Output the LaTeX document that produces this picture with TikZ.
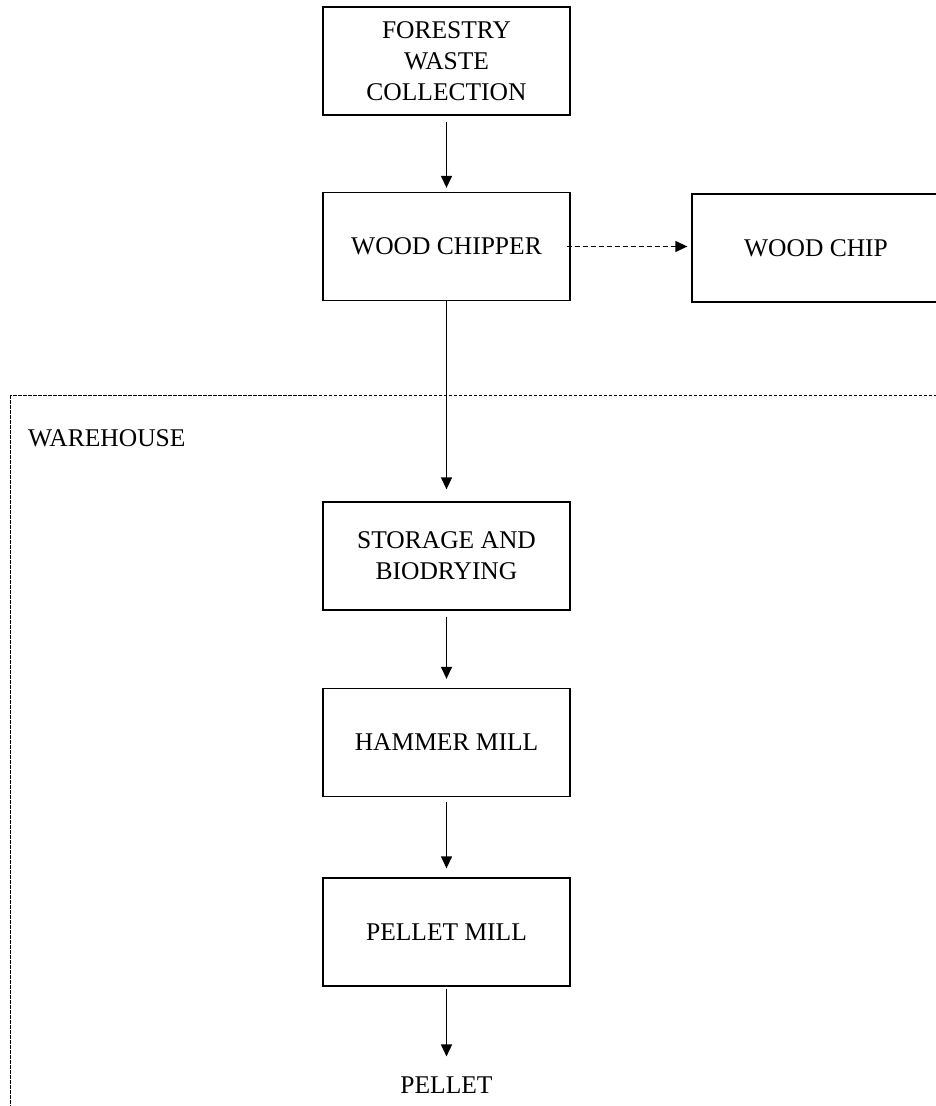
\documentclass[tikz,border=0pt]{standalone}
\usepackage{fontspec}
\setmainfont{Liberation Serif}
\usetikzlibrary{arrows.meta}
\begin{document}
\begin{tikzpicture}[x=1pt,y=-1pt,
  txt/.style={font=\fontsize{25.5}{31}\selectfont},
  box/.style={txt, draw, line width=1.3pt, inner sep=0pt, align=center,
              minimum width=247pt, minimum height=108pt},
  lbl/.style={txt, inner sep=0pt},
  arr/.style={line width=1.3pt, -{Triangle[length=12pt,width=11pt]}},
  zone/.style={line width=1pt, dash pattern=on 3.5pt off 1.5pt},
]
\useasboundingbox (0,0) rectangle (935,1106);
% warehouse zone
\coordinate (wtl) at (10,395);
\coordinate (wbr) at (946,1120);
\draw[zone] (wtl) rectangle (wbr);
\node[lbl, anchor=base west] (warehouse) at (28,446) {WAREHOUSE};

% process boxes
\node[box] (forest) at (446.5,61) {FORESTRY\\WASTE\\COLLECTION};
\node[box] (chipper) at (446.5,246.5) {WOOD CHIPPER};
\node[box, minimum width=248pt] (chip) at (816,248) {WOOD CHIP};
\node[box] (storage) at (446.5,556) {STORAGE AND\\BIODRYING};
\node[box] (hammer) at (446.5,742.5) {HAMMER MILL};
\node[box] (pellet) at (446.5,932) {PELLET MILL};
\node[lbl] (out) at (446.5,1085) {PELLET};

% connectors
\draw[arr, shorten <=6pt, shorten >=4pt] (forest) -- (chipper);
\draw[arr, dash pattern=on 5pt off 3pt, shorten <=-4pt, shorten >=4pt]
  (chipper.east) -- (chipper.east -| chip.west);
\draw[arr, shorten >=12pt] (chipper) -- (storage);
\draw[arr, shorten <=6pt, shorten >=9pt] (storage) -- (hammer);
\draw[arr, shorten <=5pt, shorten >=9pt] (hammer) -- (pellet);
\draw[arr, shorten <=2pt, shorten >=20pt] (pellet) -- (out);
\end{tikzpicture}
\end{document}
